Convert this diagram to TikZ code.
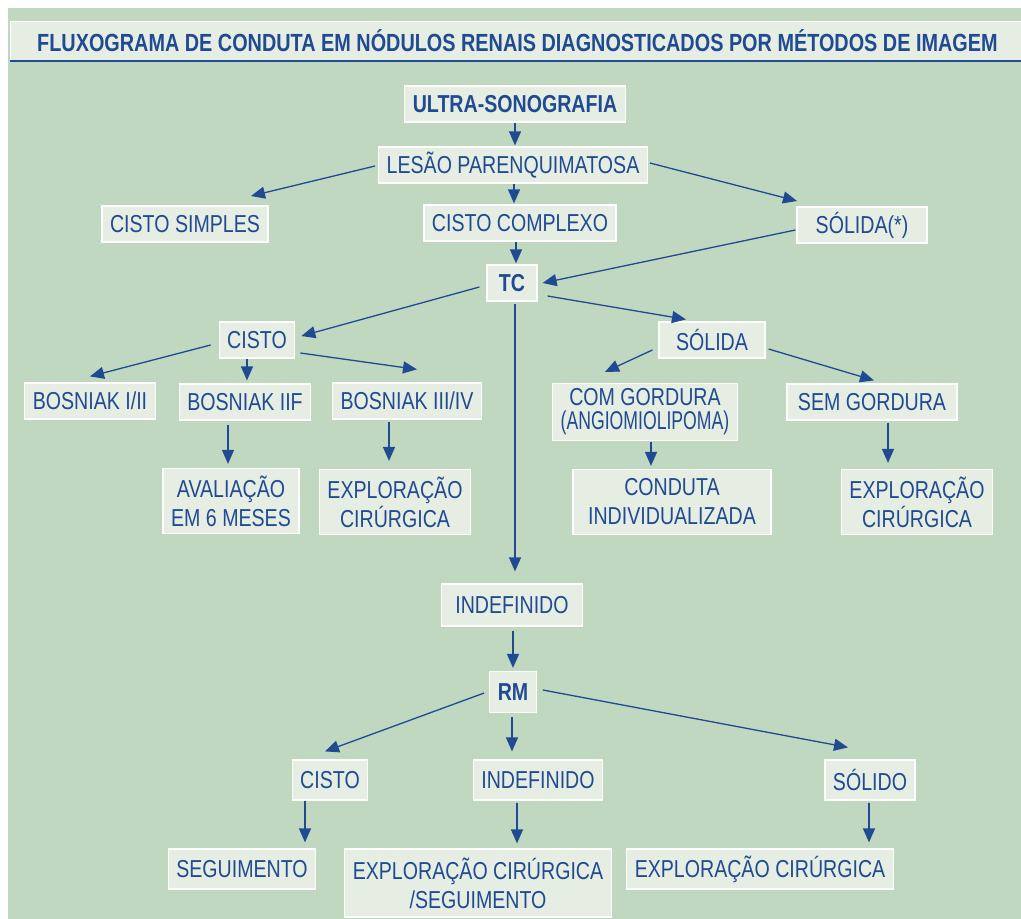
\documentclass[tikz,border=0pt]{standalone}
\usepackage{fontspec}
\setmainfont{Liberation Sans}[FakeStretch=0.8]
\usetikzlibrary{arrows.meta,calc}
\definecolor{bg}{RGB}{192,216,192}
\definecolor{boxfill}{RGB}{230,238,228}
\definecolor{ink}{RGB}{32,74,145}
\begin{document}
\begin{tikzpicture}[x=1pt,y=-1pt,
 box/.style={draw=white, line width=1.2pt, fill=boxfill, text=ink, font=\fontsize{24.5}{29}\selectfont, inner xsep=8pt, inner ysep=0pt, minimum height=36pt, align=center},
 bbox/.style={box, font=\fontsize{24.5}{29}\selectfont\bfseries},
 arr/.style={draw=ink, line width=1.3pt, -{Triangle[length=14pt,width=12pt]}},
]
\useasboundingbox (0,0) rectangle (1021,919);
\fill[white] (0,0) rectangle (1021,919);
\fill[bg] (8,8) rectangle (1021,919);
\fill[boxfill] (10,21) rectangle (1021,60);
\draw[white, line width=1pt] (1021,21) -- (10,21) -- (10,60);
\draw[ink, line width=2pt] (10,61) -- (1021,61);
\node[text=ink, font=\fontsize{24.8}{28}\selectfont\bfseries, anchor=west, inner sep=0pt] (title) at (37,41) {FLUXOGRAMA DE CONDUTA EM NÓDULOS RENAIS DIAGNOSTICADOS POR MÉTODOS DE IMAGEM};

\node[bbox] (ultra) at (515,104) {ULTRA-SONOGRAFIA};
\node[box] (lesao) at (513,165) {LESÃO PARENQUIMATOSA};
\node[box] (cs) at (185,224) {CISTO SIMPLES};
\node[box] (cc) at (520,223) {CISTO COMPLEXO};
\node[box, minimum width=130pt] (sol) at (862,225) {SÓLIDA(*)};
\node[bbox, minimum width=50pt] (tc) at (512,283) {TC};
\node[box] (cisto1) at (257,340) {CISTO};
\node[box, minimum width=106pt] (solida) at (712,340) {SÓLIDA};
\node[box] (b12) at (90,401) {BOSNIAK I/II};
\node[box] (b2f) at (245,402) {BOSNIAK IIF};
\node[box] (b34) at (407,401) {BOSNIAK III/IV};
\node[box, minimum height=57pt, minimum width=173pt] (comg) at (645,412) {COM GORDURA\\[-5pt]\scalebox{0.9}[1.05]{(ANGIOMIOLIPOMA)}};
\node[box, minimum width=170pt] (semg) at (872,402) {SEM GORDURA};
\node[box, minimum height=65pt] (aval) at (231,501) {AVALIAÇÃO\\EM 6 MESES};
\node[box, minimum height=65pt] (expl1) at (395,502) {EXPLORAÇÃO\\CIRÚRGICA};
\node[box, minimum height=65pt, minimum width=198pt] (cond) at (672,502) {CONDUTA\\INDIVIDUALIZADA};
\node[box, minimum height=65pt] (expl2) at (917,502) {EXPLORAÇÃO\\CIRÚRGICA};
\node[box, minimum height=42pt, inner xsep=14pt] (indef1) at (512,605) {INDEFINIDO};
\node[bbox, minimum height=41pt] (rm) at (513,692) {RM};
\node[box, minimum height=40pt] (cisto2) at (330,780) {CISTO};
\node[box, minimum height=40pt] (indef2) at (538,780) {INDEFINIDO};
\node[box, minimum height=40pt] (solido) at (870,780) {SÓLIDO};
\node[box, minimum height=40pt] (seg) at (242,869) {SEGUIMENTO};
\node[box, minimum height=68pt] (expl3) at (478,883) {EXPLORAÇÃO CIRÚRGICA\\/SEGUIMENTO};
\node[box, minimum height=40pt] (expl4) at (760,869) {EXPLORAÇÃO CIRÚRGICA};

% connectors
\draw[arr] (ultra.south) -- ($(ultra.south |- lesao.north)+(0,-1)$);
\draw[arr] ($(lesao.west)+(-3,1)$) -- ($(cs)+(66,-28)$);
\draw[arr] ($(lesao.east)+(2,-2)$) -- ($(sol)+(-65,-24)$);
\draw[arr] ($(lesao.south)+(1,0)$) -- ($(lesao.south |- cc.north)+(1,-1)$);
\draw[arr] ($(cc.south)+(-4,0)$) -- ($(cc.south |- tc.north)+(-4,-1)$);
\draw[arr] ($(sol.west)+(-1,5)$) -- ($(tc.east)+(5,0)$);
\draw[arr] ($(tc.west)+(-7,4)$) -- ($(cisto1.east)+(6,-4)$);
\draw[arr] ($(tc.east)+(10,13)$) -- ($(solida.north)+(-26,-2)$);
\draw[arr] ($(tc.south)+(3,2)$) -- ($(tc.south |- indef1.north)+(3,-12)$);
\draw[arr] ($(cisto1.west)+(-8,5)$) -- ($(b12.north)+(0,-6)$);
\draw[arr] ($(cisto1.south)+(-10,0)$) -- ($(cisto1.south |- b2f.north)+(-10,-3)$);
\draw[arr] ($(cisto1.east)+(5,13)$) -- ($(b34.north)+(10,-13)$);
\draw[arr] ($(solida.west)+(-6,10)$) -- ($(comg.north)+(-40,-11)$);
\draw[arr] ($(solida.east)+(3,9)$) -- ($(semg.north)+(2,-3)$);
\draw[arr] ($(b2f.south)+(-17,4)$) -- ($(b2f.south |- aval.north)+(-17,-4)$);
\draw[arr] ($(b34.south)+(-18,2)$) -- ($(b34.south |- expl1.north)+(-18,-8)$);
\draw[arr] ($(comg.south)+(6,1)$) -- ($(comg.south |- cond.north)+(6,-3)$);
\draw[arr] ($(semg.south)+(16,2)$) -- ($(semg.south |- expl2.north)+(16,-6)$);
\draw[arr] ($(indef1.south)+(1,4)$) -- ($(indef1.south |- rm.north)+(1,-3)$);
\draw[arr] ($(rm.west)+(-5,1)$) -- ($(cisto2.north)+(-5,-8)$);
\draw[arr] ($(rm.south)+(-1,4)$) -- ($(rm.south |- indef2.north)+(-1,-8)$);
\draw[arr] ($(rm.east)+(6,-2)$) -- ($(solido.north)+(-22,-12)$);
\draw[arr] ($(cisto2.south)+(-25,0)$) -- ($(cisto2.south |- seg.north)+(-25,-6)$);
\draw[arr] ($(indef2.south)+(-21,2)$) -- ($(indef2.south |- expl3.north)+(-21,-5)$);
\draw[arr] ($(solido.south)+(-1,2)$) -- ($(solido.south |- expl4.north)+(-1,-6)$);
\end{tikzpicture}
\end{document}
